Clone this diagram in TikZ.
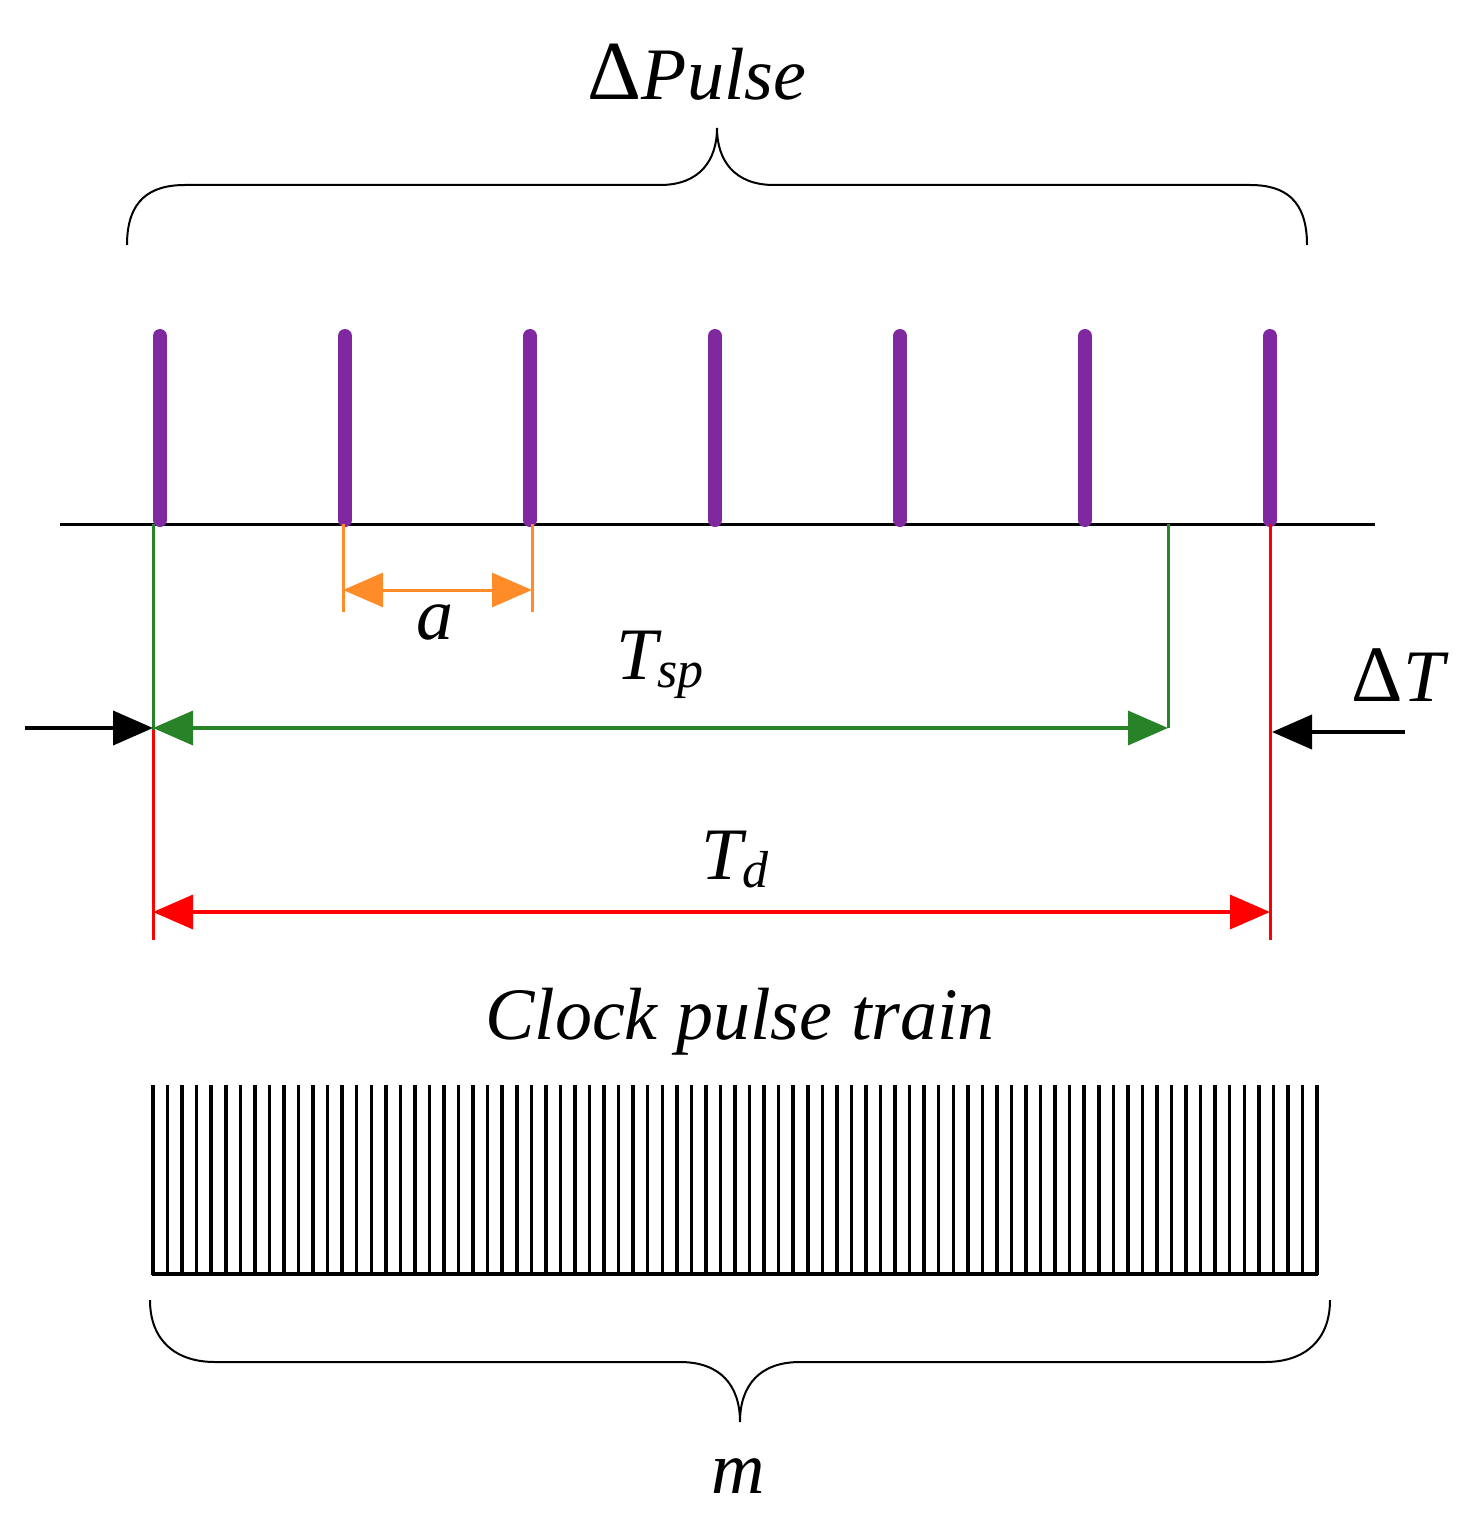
\documentclass[tikz,border=0pt]{standalone}
\usepackage{fontspec}
\setmainfont{Liberation Serif}
\usetikzlibrary{arrows.meta}
\definecolor{pur}{RGB}{128,40,160}
\definecolor{org}{RGB}{255,140,40}
\definecolor{grn}{RGB}{40,130,40}
\begin{document}
\begin{tikzpicture}[x=1pt,y=-1pt,
  lab/.style={font=\fontsize{74}{80}\selectfont\itshape},
  brace/.style={line width=2pt},
  tip/.style={-{Triangle[length=40pt,width=34pt]}},
  dtip/.style={{Triangle[length=40pt,width=34pt]}-{Triangle[length=40pt,width=34pt]}}]
\useasboundingbox (0,0) rectangle (1468,1525);
% top brace
\draw[brace] (127,245) .. controls (127,200) and (150,185) .. (185,185) -- (660,185)
  .. controls (700,185) and (717,160) .. (717,128)
  .. controls (717,160) and (734,185) .. (774,185) -- (1250,185)
  .. controls (1285,185) and (1307,200) .. (1307,245);
\node[lab] (dp) at (697,72) {{\upshape\fontsize{84}{90}\selectfont Δ}Pulse};
% baseline
\coordinate (b0) at (60,524); \coordinate (b1) at (1375,524);
\draw[line width=3pt] (b0) -- (b1);
\foreach \x in {160,345,530,715,900,1085,1270}
  \draw[pur,line width=14pt,line cap=round] (\x,336) -- (\x,520);
% orange
\coordinate (o1) at (343,524); \coordinate (o2) at (532,524);
\coordinate (o1b) at (343,612); \coordinate (o2b) at (532,612);
\draw[org,line width=3pt] (o1) -- (o1b) (o2) -- (o2b);
\draw[org,line width=3pt,dtip] (343,590) -- (532,590);
\node[lab] (a) at (435,622) {a};
% green
\coordinate (g1) at (153,524); \coordinate (g2) at (1168,524);
\draw[grn,line width=3pt] (g1) -- (153,730) (g2) -- (1168,728);
\draw[grn,line width=3.5pt,dtip] (153,728) -- (1168,728);
\node[lab] (tsp) at (660,665) {T\raisebox{-8pt}{\fontsize{52}{56}\selectfont sp}};
% red
\draw[red,line width=3pt] (153,730) -- (153,940) (1270,524) -- (1270,940);
\draw[red,line width=3.5pt,dtip] (153,912) -- (1270,912);
\node[lab] (td) at (735,860) {T\raisebox{-8pt}{\fontsize{52}{56}\selectfont d}};
% black arrows
\coordinate (k1) at (25,728); \coordinate (k2) at (153,728);
\draw[line width=4pt,tip] (k1) -- (k2);
\coordinate (k3) at (1405,732); \coordinate (k4) at (1272,732);
\draw[line width=4pt,tip] (k3) -- (k4);
\node[lab] (dt) at (1398,675) {{\upshape\fontsize{80}{86}\selectfont Δ}T};
% clock
\node[lab] (clk) at (740,1022) {Clock pulse train};
\foreach \i in {0,...,80}
  \draw[line width=3.5pt] ({153+\i*14.55},1085) -- ({153+\i*14.55},1275);
\draw[line width=4pt] (152,1274) -- (1318,1274);
% bottom brace
\draw[brace] (150,1300) .. controls (150,1340) and (175,1362) .. (215,1362) -- (680,1362)
  .. controls (720,1362) and (740,1385) .. (740,1422)
  .. controls (740,1385) and (760,1362) .. (800,1362) -- (1265,1362)
  .. controls (1305,1362) and (1330,1340) .. (1330,1300);
\node[lab] (m) at (738,1476) {m};
\end{tikzpicture}
\end{document}
